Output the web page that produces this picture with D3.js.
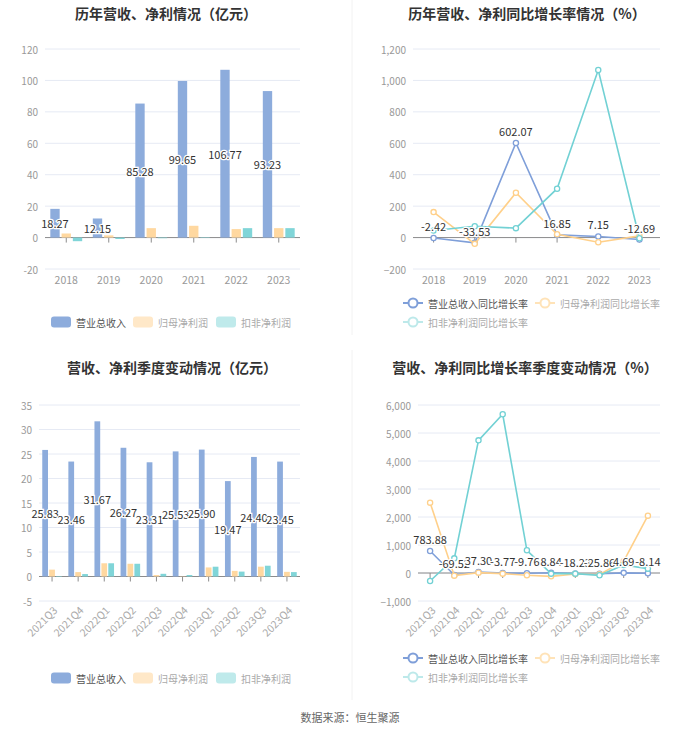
<!DOCTYPE html>
<html>
<head>
<meta charset="utf-8">
<script src="https://cdn.jsdelivr.net/npm/d3@7/dist/d3.min.js"></script>
<style>
html,body{margin:0;padding:0;background:#fff;}
svg{display:block;font-family:"Microsoft YaHei","Noto Sans CJK SC","Noto Sans",sans-serif;}
</style>
</head>
<body>
<svg id="chart" width="700" height="734"></svg>
<script>
// ---- data ----
const years = ['2018','2019','2020','2021','2022','2023'];
const revenue = [18.27, 12.15, 85.28, 99.65, 106.77, 93.23];
const netProfit = [2.6, 1.4, 6.0, 7.5, 5.4, 6.0];
const deductedProfit = [-2.3, -0.9, -0.4, 0.3, 6.0, 6.0];
const revenueGrowth = [-2.42, -33.53, 602.07, 16.85, 7.15, -12.69];
const netProfitGrowth = [162, -40, 285, 21, -30, 11];
const deductedGrowth = [45, 72, 60, 311, 1066, -4];

const quarters = ['2021Q3','2021Q4','2022Q1','2022Q2','2022Q3','2022Q4','2023Q1','2023Q2','2023Q3','2023Q4'];
const qRevenue = [25.83, 23.46, 31.67, 26.27, 23.31, 25.53, 25.90, 19.47, 24.40, 23.45];
const qNetProfit = [1.4, 0.9, 2.7, 2.6, 0.3, 0.05, 1.85, 1.15, 2.0, 0.95];
const qDeducted = [-0.1, 0.5, 2.7, 2.6, 0.55, 0.3, 2.0, 1.0, 2.2, 0.9];
const qRevenueGrowth = [783.88, -69.52, 37.30, -3.77, -9.76, 8.84, -18.23, -25.86, 4.69, -8.14];
const qNetGrowth = [2512, -95, 12, -24, -83, -119, -36, -48, 420, 2048];
const qDeductedGrowth = [-286, 524, 4738, 5667, 810, -24, -24, -83, 286, 155];

const barNames = ['营业总收入','归母净利润','扣非净利润'];
const lineNames = ['营业总收入同比增长率','归母净利润同比增长率','扣非净利润同比增长率'];
const titles = ['历年营收、净利情况（亿元）','历年营收、净利同比增长率情况（%）','营收、净利季度变动情况（亿元）','营收、净利同比增长率季度变动情况（%）'];

const barColors = ['#8dacdc','#ffd8a0','#80d5d8'];
const legendBarColors = ['#8dacdc','#ffe8c8','#bfeaeb'];
const lineColors = ['#7f9fd9','#ffd08a','#72d1d4'];
const legendLineColors = ['#7f9fd9','#ffe3b8','#bde9ea'];

const svg = d3.select('#chart');
const fmt = d3.format(',');

// dividers
svg.append('line').attr('x1',352).attr('x2',352).attr('y1',0).attr('y2',335).attr('stroke','#f2f2f2');
svg.append('line').attr('x1',352).attr('x2',352).attr('y1',350).attr('y2',700).attr('stroke','#f2f2f2');

function title(txt, cx, cy){
  svg.append('text').attr('x',cx).attr('y',cy).attr('text-anchor','middle')
    .attr('dominant-baseline','central').attr('font-size',14).attr('font-weight','bold')
    .attr('fill','#333').text(txt);
}
title(titles[0],166,13);
title(titles[1],527,13);
title(titles[2],172,367);
title(titles[3],525,367);

svg.append('text').attr('x',350).attr('y',717).attr('text-anchor','middle')
  .attr('dominant-baseline','central').attr('font-size',11).attr('fill','#666').text('数据来源：恒生聚源');

function axes(g, cats, x, y, ticks, useComma, rotate, labelY){
  const [r0,r1] = x.range();
  // grid
  g.selectAll('.grid').data(ticks).join('line')
    .attr('x1',r0).attr('x2',r1).attr('y1',d=>y(d)).attr('y2',d=>y(d))
    .attr('stroke','#e6eaf4').attr('stroke-width',1);
  g.selectAll('.ylab').data(ticks).join('text')
    .attr('x',r0-7).attr('y',d=>y(d)).attr('text-anchor','end').attr('dominant-baseline','central')
    .attr('font-size',10).attr('fill','#999').text(d=>useComma?fmt(d):d);
  // zero axis
  g.append('line').attr('x1',r0).attr('x2',r1).attr('y1',y(0)).attr('y2',y(0)).attr('stroke','#8c8c8c');
  g.selectAll('.tick').data(cats).join('line')
    .attr('x1',d=>x(d)+x.bandwidth()/2).attr('x2',d=>x(d)+x.bandwidth()/2)
    .attr('y1',y(0)).attr('y2',y(0)+5).attr('stroke','#8c8c8c');
  if(!rotate){
    g.selectAll('.xlab').data(cats).join('text')
      .attr('x',d=>x(d)+x.bandwidth()/2).attr('y',labelY).attr('text-anchor','middle')
      .attr('dominant-baseline','central').attr('font-size',10.5).attr('fill','#999').text(d=>d);
  } else {
    g.selectAll('.xlab').data(cats).join('text')
      .attr('text-anchor','end').attr('dominant-baseline','central')
      .attr('transform',d=>`translate(${x(d)+x.bandwidth()/2+3},${labelY}) rotate(-45)`)
      .attr('font-size',10.5).attr('fill','#aaa').text(d=>d);
  }
}

function barPanel(cats, series, xr, yd, yr, ticks, rotate, labelY, legendY){
  const g = svg.append('g');
  const x = d3.scaleBand().domain(cats).range(xr).padding(0);
  const y = d3.scaleLinear().domain(yd).range(yr);
  axes(g, cats, x, y, ticks, false, rotate, labelY);
  const bw = x.bandwidth()*0.22, gap = x.bandwidth()*0.045;
  const groupW = bw*3+gap*2;
  series.forEach((vals,si)=>{
    g.selectAll('.b'+si).data(cats).join('rect')
      .attr('x',(d)=>x(d)+x.bandwidth()/2-groupW/2+si*(bw+gap))
      .attr('width',bw)
      .attr('y',(d,i)=>Math.min(y(vals[i]),y(0)))
      .attr('height',(d,i)=>Math.abs(y(vals[i])-y(0)))
      .attr('fill',barColors[si]);
  });
  // labels for revenue
  const rev = series[0];
  g.selectAll('.vl').data(cats).join('text')
    .attr('x',d=>x(d)+x.bandwidth()/2-groupW/2+bw/2)
    .attr('y',(d,i)=>(y(rev[i])+y(0))/2)
    .attr('text-anchor','middle').attr('dominant-baseline','central')
    .attr('font-size',11).attr('fill','#333')
    .attr('stroke','#fff').attr('stroke-width',2.5).attr('paint-order','stroke')
    .text((d,i)=>rev[i].toFixed(2));
  // legend
  const lx = [51,133,216];
  barNames.forEach((n,i)=>{
    g.append('rect').attr('x',lx[i]).attr('y',legendY-5.5).attr('width',20).attr('height',11).attr('rx',3)
      .attr('fill',legendBarColors[i]);
    g.append('text').attr('x',lx[i]+25).attr('y',legendY).attr('dominant-baseline','central')
      .attr('font-size',10).attr('fill',i===0?'#555':'#aaa').text(n);
  });
}

function linePanel(cats, series, xr, yd, yr, ticks, rotate, labelY, legendY1, legendY2){
  const g = svg.append('g');
  const x = d3.scaleBand().domain(cats).range(xr).padding(0);
  const y = d3.scaleLinear().domain(yd).range(yr);
  axes(g, cats, x, y, ticks, true, rotate, labelY);
  const cx = d=>x(d)+x.bandwidth()/2;
  series.forEach((vals,si)=>{
    const line = d3.line().x((d,i)=>cx(cats[i])).y(d=>y(d));
    g.append('path').datum(vals).attr('d',line).attr('fill','none')
      .attr('stroke',lineColors[si]).attr('stroke-width',1.6);
    g.selectAll('.m'+si).data(vals).join('circle')
      .attr('cx',(d,i)=>cx(cats[i])).attr('cy',d=>y(d)).attr('r',2.6)
      .attr('fill','#fff').attr('stroke',lineColors[si]).attr('stroke-width',1.3);
  });
  const rev = series[0];
  g.selectAll('.vl').data(rev).join('text')
    .attr('x',(d,i)=>cx(cats[i])).attr('y',d=>y(d)-12)
    .attr('text-anchor','middle').attr('dominant-baseline','central')
    .attr('font-size',11).attr('fill','#333')
    .attr('stroke','#fff').attr('stroke-width',2.5).attr('paint-order','stroke')
    .text(d=>d.toFixed(2));
  // legend
  const items = [[403,legendY1],[535,legendY1],[403,legendY2]];
  lineNames.forEach((n,i)=>{
    const [lx,ly] = items[i];
    g.append('line').attr('x1',lx).attr('x2',lx+20).attr('y1',ly).attr('y2',ly)
      .attr('stroke',legendLineColors[i]).attr('stroke-width',2);
    g.append('circle').attr('cx',lx+10).attr('cy',ly).attr('r',4.5).attr('fill','#fff')
      .attr('stroke',legendLineColors[i]).attr('stroke-width',2);
    g.append('text').attr('x',lx+25).attr('y',ly).attr('dominant-baseline','central')
      .attr('font-size',10).attr('fill',i===0?'#555':'#aaa').text(n);
  });
}

barPanel(years,[revenue,netProfit,deductedProfit],[45,300],[-20,120],[269,49],d3.range(-20,121,20),false,279,322);
linePanel(years,[revenueGrowth,netProfitGrowth,deductedGrowth],[413,660],[-200,1200],[269,49],d3.range(-200,1201,200),false,279,303,322);
barPanel(quarters,[qRevenue,qNetProfit,qDeducted],[39,300],[-5,35],[601,405],d3.range(-5,36,5),true,608,678);
linePanel(quarters,[qRevenueGrowth,qNetGrowth,qDeductedGrowth],[418,660],[-1000,6000],[601,405],d3.range(-1000,6001,1000),true,608,658,677);
</script>
</body>
</html>
